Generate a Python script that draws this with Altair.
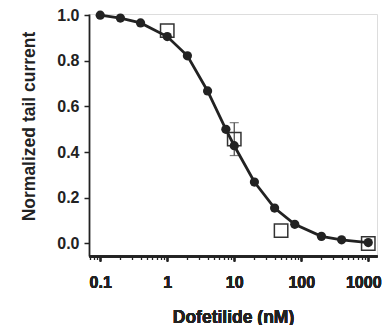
import altair as alt
import pandas as pd

# Filled circles (fit data) and curve
conc = [0.1, 0.2, 0.4, 1, 2, 4, 7.5, 10, 20, 40, 80, 200, 400, 1000]
current = [1.0, 0.987, 0.966, 0.906, 0.822, 0.668, 0.50, 0.428, 0.269, 0.155, 0.084, 0.031, 0.016, 0.004]

# Open squares
sq_conc = [1, 10, 50, 1000]
sq_current = [0.932, 0.457, 0.056, 0.0]
sq_err = [0.0, 0.072, 0.0, 0.0]

x_ticks = [0.1, 1, 10, 100, 1000]
x_minor = [0.07, 0.08, 0.09] + [m * d for d in [0.1, 1, 10, 100] for m in range(2, 10)]
y_ticks = [0.0, 0.2, 0.4, 0.6, 0.8, 1.0]

df = pd.DataFrame({"conc": conc, "current": current})
sq = pd.DataFrame({"conc": sq_conc, "current": sq_current, "err": sq_err})
sq["lo"] = sq["current"] - sq["err"]
sq["hi"] = sq["current"] + sq["err"]
eb = sq[sq["err"] > 0]

FONT = "Liberation Sans"
INK = "#222222"

xscale = alt.Scale(type="log", domain=[0.068, 1350], nice=False)
yscale = alt.Scale(domain=[-0.055, 1.005], nice=False, zero=False)

xaxis = alt.Axis(values=x_ticks, format="~g", title="Dofetilide (nM)", orient="bottom",
                 grid=False, tickSize=5, tickWidth=1.5, tickColor=INK, domainColor=INK,
                 domainWidth=1.8, labelFont=FONT, labelFontSize=16, labelFontWeight="bold",
                 labelColor=INK, labelPadding=13, titleFont=FONT, titleFontSize=17.5,
                 titleFontWeight="bold", titleColor=INK, titleBaseline="alphabetic",
                 titleY=66, labelFlush=False, labelOverlap=False,
                 labelOffset={"expr": "datum.value >= 1000 ? -5 : 0"})
yaxis = alt.Axis(values=y_ticks, format=".1f", title="Normalized tail current", grid=False,
                 orient="left", tickSize=5, tickWidth=1.5, tickColor=INK, domainColor=INK,
                 domainWidth=1.8, labelFont=FONT, labelFontSize=16, labelFontWeight="bold",
                 labelColor=INK, labelPadding=5, titleFont=FONT, titleFontSize=17.5,
                 titleFontWeight="bold", titleColor=INK, titleBaseline="alphabetic",
                 titleX=-55, titleY=112, titleAngle=-90, titleAlign="center",
                 labelOverlap=False)

minor_axis = alt.Axis(values=x_minor, labels=False, title=None, orient="bottom", grid=False,
                      domain=False, tickSize=3.5, tickWidth=1.3, tickColor=INK)

base = alt.Chart(df)

errbar = alt.Chart(eb).mark_rule(color="#444444", strokeWidth=1.2).encode(
    x=alt.X("conc:Q", scale=xscale, axis=xaxis),
    y=alt.Y("lo:Q", scale=yscale, axis=yaxis),
    y2="hi:Q",
)
cap_lo = alt.Chart(eb).mark_tick(color="#444444", size=9, thickness=1.2, orient="horizontal").encode(
    x=alt.X("conc:Q", scale=xscale, axis=xaxis), y=alt.Y("lo:Q", scale=yscale, axis=yaxis))
cap_hi = alt.Chart(eb).mark_tick(color="#444444", size=9, thickness=1.2, orient="horizontal").encode(
    x=alt.X("conc:Q", scale=xscale, axis=xaxis), y=alt.Y("hi:Q", scale=yscale, axis=yaxis))

squares = alt.Chart(sq).mark_point(shape="square", size=180, filled=False, color="#333333",
                                   strokeWidth=1.5, opacity=1).encode(
    x=alt.X("conc:Q", scale=xscale, axis=xaxis), y=alt.Y("current:Q", scale=yscale, axis=yaxis))

line = base.mark_line(color=INK, strokeWidth=2.8).encode(
    x=alt.X("conc:Q", scale=xscale, axis=xaxis), y=alt.Y("current:Q", scale=yscale, axis=yaxis))

circles = base.mark_circle(color=INK, size=85, opacity=1).encode(
    x=alt.X("conc:Q", scale=xscale, axis=xaxis), y=alt.Y("current:Q", scale=yscale, axis=yaxis))

minor = base.mark_point(opacity=0).encode(
    x=alt.X("conc:Q", scale=xscale, axis=minor_axis),
    y=alt.Y("current:Q", scale=yscale, axis=yaxis),
)

chart = alt.layer(errbar, cap_lo, cap_hi, squares, line, circles, minor).resolve_axis(
    x="independent"
).properties(
    width=288, height=242,
    autosize=alt.AutoSizeParams(type="none"),
    padding={"left": 81, "top": 6, "right": 5, "bottom": 69},
).configure_view(stroke=None).configure(background="white")

chart.save("out.html", embed_options={"renderer": "svg", "actions": False})
